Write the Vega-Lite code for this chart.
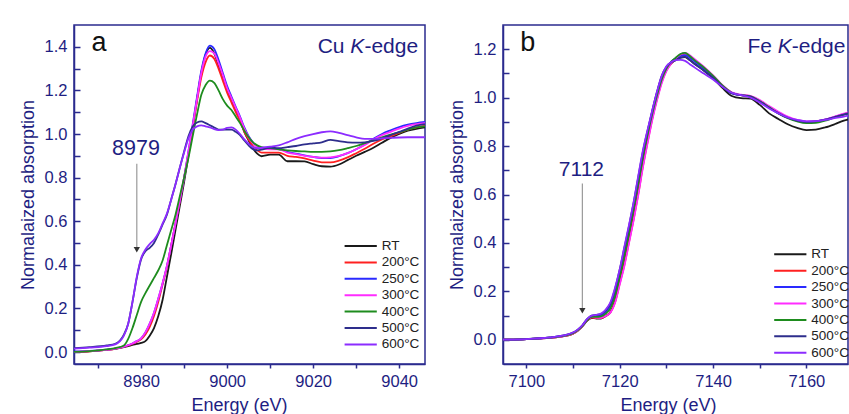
{
"$schema": "https://vega.github.io/schema/vega-lite/v6.json",
"background": "white",
"padding": {"left": 18, "top": 24, "right": 0, "bottom": 0},
"config": {
  "font": "Liberation Sans",
  "view": {"stroke": "#2b2b8e", "strokeWidth": 1.5},
  "axis": {"domainColor": "#2b2b8e", "domainWidth": 1.5, "tickColor": "#2b2b8e", "tickWidth": 1.5, "labelColor": "#1e1e82", "labelFont": "Liberation Sans", "labelFontSize": 16.5, "titleColor": "#1e1e82", "titleFont": "Liberation Sans", "titleFontSize": 18, "titleFontWeight": "normal", "grid": false, "labelFlush": false, "labelOverlap": false},
  "legend": {"title": null, "orient": "none", "symbolType": "M-2.3,0H2.3", "symbolSize": 196, "symbolStrokeWidth": 2, "labelFontSize": 13.5, "labelFont": "Liberation Sans", "labelColor": "#222222", "labelOffset": 13, "rowPadding": 1.4, "padding": 0}
},
"datasets": {
  "a": [
    {"e":8964,"RT":0,"200":0,"250":0.002,"300":0,"400":0,"500":0.017,"600":0.015},
    {"e":8968,"RT":0.003,"200":0.003,"250":0.005,"300":0.004,"400":0.004,"500":0.022,"600":0.02},
    {"e":8972,"RT":0.01,"200":0.01,"250":0.011,"300":0.01,"400":0.012,"500":0.03,"600":0.027},
    {"e":8974,"RT":0.015,"200":0.015,"250":0.016,"300":0.016,"400":0.018,"500":0.038,"600":0.035},
    {"e":8976,"RT":0.022,"200":0.024,"250":0.025,"300":0.025,"400":0.03,"500":0.08,"600":0.075},
    {"e":8977,"RT":0.027,"200":0.03,"250":0.031,"300":0.031,"400":0.06,"500":0.13,"600":0.13},
    {"e":8978,"RT":0.033,"200":0.037,"250":0.039,"300":0.039,"400":0.11,"500":0.23,"600":0.23},
    {"e":8979,"RT":0.037,"200":0.046,"250":0.05,"300":0.05,"400":0.17,"500":0.34,"600":0.345},
    {"e":8980,"RT":0.042,"200":0.058,"250":0.063,"300":0.063,"400":0.23,"500":0.425,"600":0.43},
    {"e":8981,"RT":0.05,"200":0.08,"250":0.09,"300":0.09,"400":0.27,"500":0.462,"600":0.47},
    {"e":8982,"RT":0.075,"200":0.115,"250":0.13,"300":0.13,"400":0.305,"500":0.478,"600":0.495},
    {"e":8983,"RT":0.11,"200":0.165,"250":0.18,"300":0.18,"400":0.34,"500":0.5,"600":0.515},
    {"e":8984,"RT":0.165,"200":0.23,"250":0.245,"300":0.245,"400":0.375,"500":0.54,"600":0.545},
    {"e":8985,"RT":0.24,"200":0.31,"250":0.315,"300":0.315,"400":0.42,"500":0.585,"600":0.59},
    {"e":8986,"RT":0.345,"200":0.39,"250":0.395,"300":0.395,"400":0.49,"500":0.63,"600":0.635},
    {"e":8987,"RT":0.45,"200":0.49,"250":0.49,"300":0.49,"400":0.56,"500":0.7,"600":0.7},
    {"e":8988,"RT":0.56,"200":0.59,"250":0.59,"300":0.59,"400":0.63,"500":0.77,"600":0.77},
    {"e":8989,"RT":0.67,"200":0.69,"250":0.695,"300":0.695,"400":0.715,"500":0.845,"600":0.845},
    {"e":8990,"RT":0.78,"200":0.8,"250":0.8,"300":0.8,"400":0.8,"500":0.92,"600":0.915},
    {"e":8991,"RT":0.9,"200":0.91,"250":0.92,"300":0.92,"400":0.89,"500":0.99,"600":0.98},
    {"e":8992,"RT":1.03,"200":1.03,"250":1.045,"300":1.04,"400":0.99,"500":1.035,"600":1.02},
    {"e":8993,"RT":1.16,"200":1.15,"250":1.17,"300":1.16,"400":1.09,"500":1.053,"600":1.035},
    {"e":8994,"RT":1.28,"200":1.26,"250":1.29,"300":1.28,"400":1.18,"500":1.058,"600":1.04},
    {"e":8995,"RT":1.365,"200":1.33,"250":1.37,"300":1.355,"400":1.225,"500":1.05,"600":1.035},
    {"e":8996,"RT":1.395,"200":1.36,"250":1.405,"300":1.38,"400":1.245,"500":1.04,"600":1.03},
    {"e":8997,"RT":1.37,"200":1.345,"250":1.39,"300":1.37,"400":1.235,"500":1.03,"600":1.022},
    {"e":8998,"RT":1.315,"200":1.3,"250":1.34,"300":1.325,"400":1.2,"500":1.02,"600":1.018},
    {"e":8999,"RT":1.26,"200":1.245,"250":1.28,"300":1.27,"400":1.16,"500":1.02,"600":1.02},
    {"e":9000,"RT":1.2,"200":1.19,"250":1.22,"300":1.21,"400":1.13,"500":1.02,"600":1.028},
    {"e":9001,"RT":1.155,"200":1.145,"250":1.172,"300":1.165,"400":1.11,"500":1.02,"600":1.03},
    {"e":9002,"RT":1.11,"200":1.1,"250":1.125,"300":1.12,"400":1.08,"500":1.01,"600":1.02},
    {"e":9003,"RT":1.065,"200":1.06,"250":1.08,"300":1.075,"400":1.05,"500":0.995,"600":1.0},
    {"e":9004,"RT":1.01,"200":1.01,"250":1.03,"300":1.025,"400":1.015,"500":0.97,"600":0.975},
    {"e":9005,"RT":0.97,"200":0.975,"250":0.99,"300":0.985,"400":0.985,"500":0.948,"600":0.955},
    {"e":9006,"RT":0.935,"200":0.945,"250":0.962,"300":0.958,"400":0.962,"500":0.93,"600":0.94},
    {"e":9007,"RT":0.91,"200":0.925,"250":0.943,"300":0.94,"400":0.948,"500":0.925,"600":0.935},
    {"e":9008,"RT":0.898,"200":0.915,"250":0.935,"300":0.932,"400":0.94,"500":0.928,"600":0.937},
    {"e":9010,"RT":0.905,"200":0.915,"250":0.932,"300":0.93,"400":0.935,"500":0.938,"600":0.942},
    {"e":9012,"RT":0.905,"200":0.915,"250":0.932,"300":0.93,"400":0.93,"500":0.935,"600":0.948},
    {"e":9014,"RT":0.875,"200":0.9,"250":0.918,"300":0.915,"400":0.925,"500":0.94,"600":0.962},
    {"e":9016,"RT":0.875,"200":0.895,"250":0.91,"300":0.908,"400":0.922,"500":0.945,"600":0.978},
    {"e":9018,"RT":0.874,"200":0.888,"250":0.902,"300":0.9,"400":0.92,"500":0.952,"600":0.99},
    {"e":9020,"RT":0.862,"200":0.878,"250":0.895,"300":0.895,"400":0.918,"500":0.957,"600":1.0},
    {"e":9022,"RT":0.852,"200":0.87,"250":0.89,"300":0.892,"400":0.918,"500":0.962,"600":1.008},
    {"e":9024,"RT":0.85,"200":0.87,"250":0.89,"300":0.893,"400":0.92,"500":0.973,"600":1.012},
    {"e":9026,"RT":0.86,"200":0.878,"250":0.898,"300":0.9,"400":0.926,"500":0.967,"600":1.005},
    {"e":9028,"RT":0.88,"200":0.893,"250":0.912,"300":0.912,"400":0.935,"500":0.962,"600":0.995},
    {"e":9030,"RT":0.9,"200":0.912,"250":0.93,"300":0.93,"400":0.945,"500":0.96,"600":0.985},
    {"e":9032,"RT":0.918,"200":0.932,"250":0.952,"300":0.95,"400":0.958,"500":0.962,"600":0.978},
    {"e":9034,"RT":0.937,"200":0.955,"250":0.978,"300":0.975,"400":0.972,"500":0.968,"600":0.978},
    {"e":9036,"RT":0.96,"200":0.975,"250":1.0,"300":0.995,"400":0.985,"500":0.98,"600":0.98},
    {"e":9038,"RT":0.982,"200":0.99,"250":1.017,"300":1.01,"400":0.997,"500":0.995,"600":0.982},
    {"e":9040,"RT":1.0,"200":1.005,"250":1.032,"300":1.025,"400":1.008,"500":1.01,"600":0.984},
    {"e":9042,"RT":1.015,"200":1.02,"250":1.043,"300":1.037,"400":1.02,"500":1.025,"600":0.985},
    {"e":9044,"RT":1.024,"200":1.03,"250":1.05,"300":1.045,"400":1.03,"500":1.038,"600":0.985},
    {"e":9046,"RT":1.03,"200":1.037,"250":1.055,"300":1.05,"400":1.035,"500":1.045,"600":0.985}
  ],
  "b": [
    {"e":7094,"RT":0,"200":0,"250":0,"300":0,"400":0,"500":0,"600":0},
    {"e":7100,"RT":0.003,"200":0.003,"250":0.003,"300":0.003,"400":0.003,"500":0.003,"600":0.003},
    {"e":7105,"RT":0.008,"200":0.008,"250":0.009,"300":0.008,"400":0.009,"500":0.01,"600":0.01},
    {"e":7108,"RT":0.015,"200":0.015,"250":0.017,"300":0.015,"400":0.016,"500":0.018,"600":0.018},
    {"e":7110,"RT":0.025,"200":0.025,"250":0.028,"300":0.026,"400":0.027,"500":0.03,"600":0.03},
    {"e":7111,"RT":0.037,"200":0.037,"250":0.04,"300":0.038,"400":0.039,"500":0.042,"600":0.042},
    {"e":7112,"RT":0.055,"200":0.056,"250":0.058,"300":0.057,"400":0.057,"500":0.06,"600":0.06},
    {"e":7113,"RT":0.078,"200":0.08,"250":0.083,"300":0.082,"400":0.08,"500":0.085,"600":0.085},
    {"e":7114,"RT":0.09,"200":0.092,"250":0.098,"300":0.094,"400":0.095,"500":0.1,"600":0.1},
    {"e":7115,"RT":0.088,"200":0.09,"250":0.1,"300":0.092,"400":0.095,"500":0.103,"600":0.103},
    {"e":7116,"RT":0.088,"200":0.09,"250":0.102,"300":0.091,"400":0.097,"500":0.106,"600":0.108},
    {"e":7117,"RT":0.098,"200":0.098,"250":0.115,"300":0.098,"400":0.108,"500":0.122,"600":0.125},
    {"e":7118,"RT":0.115,"200":0.113,"250":0.14,"300":0.112,"400":0.13,"500":0.15,"600":0.155},
    {"e":7119,"RT":0.16,"200":0.155,"250":0.195,"300":0.152,"400":0.18,"500":0.21,"600":0.215},
    {"e":7120,"RT":0.24,"200":0.232,"250":0.275,"300":0.228,"400":0.26,"500":0.29,"600":0.29},
    {"e":7121,"RT":0.32,"200":0.31,"250":0.362,"300":0.305,"400":0.345,"500":0.38,"600":0.385},
    {"e":7122,"RT":0.415,"200":0.405,"250":0.455,"300":0.4,"400":0.44,"500":0.47,"600":0.475},
    {"e":7123,"RT":0.51,"200":0.5,"250":0.555,"300":0.495,"400":0.54,"500":0.568,"600":0.57},
    {"e":7124,"RT":0.615,"200":0.605,"250":0.66,"300":0.6,"400":0.645,"500":0.675,"600":0.68},
    {"e":7125,"RT":0.73,"200":0.72,"250":0.77,"300":0.715,"400":0.755,"500":0.78,"600":0.785},
    {"e":7126,"RT":0.83,"200":0.82,"250":0.86,"300":0.815,"400":0.85,"500":0.867,"600":0.87},
    {"e":7127,"RT":0.92,"200":0.915,"250":0.945,"300":0.91,"400":0.935,"500":0.948,"600":0.95},
    {"e":7128,"RT":1.0,"200":0.995,"250":1.02,"300":0.99,"400":1.01,"500":1.025,"600":1.025},
    {"e":7129,"RT":1.07,"200":1.065,"250":1.085,"300":1.06,"400":1.075,"500":1.09,"600":1.09},
    {"e":7130,"RT":1.115,"200":1.112,"250":1.125,"300":1.11,"400":1.12,"500":1.128,"600":1.13},
    {"e":7131,"RT":1.14,"200":1.14,"250":1.148,"300":1.14,"400":1.148,"500":1.145,"600":1.147},
    {"e":7132,"RT":1.155,"200":1.16,"250":1.162,"300":1.162,"400":1.165,"500":1.155,"600":1.155},
    {"e":7133,"RT":1.165,"200":1.175,"250":1.172,"300":1.178,"400":1.18,"500":1.165,"600":1.156},
    {"e":7134,"RT":1.167,"200":1.182,"250":1.176,"300":1.185,"400":1.185,"500":1.168,"600":1.152},
    {"e":7135,"RT":1.155,"200":1.17,"250":1.165,"300":1.175,"400":1.172,"500":1.155,"600":1.138},
    {"e":7136,"RT":1.14,"200":1.155,"250":1.15,"300":1.16,"400":1.155,"500":1.14,"600":1.125},
    {"e":7138,"RT":1.112,"200":1.125,"250":1.12,"300":1.128,"400":1.125,"500":1.112,"600":1.1},
    {"e":7140,"RT":1.08,"200":1.09,"250":1.087,"300":1.092,"400":1.09,"500":1.082,"600":1.075},
    {"e":7142,"RT":1.04,"200":1.05,"250":1.048,"300":1.052,"400":1.05,"500":1.045,"600":1.045},
    {"e":7144,"RT":1.007,"200":1.02,"250":1.018,"300":1.022,"400":1.02,"500":1.017,"600":1.02},
    {"e":7146,"RT":0.998,"200":1.01,"250":1.01,"300":1.012,"400":1.01,"500":1.01,"600":1.01},
    {"e":7148,"RT":0.996,"200":1.005,"250":1.004,"300":1.007,"400":1.005,"500":1.004,"600":1.0},
    {"e":7150,"RT":0.97,"200":0.987,"250":0.985,"300":0.99,"400":0.985,"500":0.984,"600":0.98},
    {"e":7152,"RT":0.935,"200":0.962,"250":0.96,"300":0.965,"400":0.96,"500":0.958,"600":0.955},
    {"e":7154,"RT":0.912,"200":0.938,"250":0.937,"300":0.942,"400":0.935,"500":0.935,"600":0.935},
    {"e":7156,"RT":0.89,"200":0.918,"250":0.918,"300":0.922,"400":0.915,"500":0.917,"600":0.918},
    {"e":7158,"RT":0.875,"200":0.905,"250":0.906,"300":0.908,"400":0.902,"500":0.905,"600":0.908},
    {"e":7160,"RT":0.866,"200":0.898,"250":0.9,"300":0.902,"400":0.895,"500":0.9,"600":0.902},
    {"e":7162,"RT":0.868,"200":0.9,"250":0.902,"300":0.903,"400":0.896,"500":0.902,"600":0.903},
    {"e":7164,"RT":0.877,"200":0.908,"250":0.909,"300":0.91,"400":0.905,"500":0.909,"600":0.908},
    {"e":7166,"RT":0.89,"200":0.92,"250":0.92,"300":0.922,"400":0.918,"500":0.92,"600":0.915},
    {"e":7168,"RT":0.905,"200":0.932,"250":0.932,"300":0.934,"400":0.93,"500":0.93,"600":0.922},
    {"e":7170,"RT":0.915,"200":0.942,"250":0.942,"300":0.944,"400":0.94,"500":0.94,"600":0.93}
  ]
},
"spacing": 21,
"resolve": {"scale": {"color": "independent", "x": "independent", "y": "independent"}, "legend": {"color": "independent"}},
"hconcat": [
  {
    "width": 351, "height": 339,
    "encoding": {
      "x": {"field": "e", "type": "quantitative", "scale": {"domain": [8964.4, 9046], "nice": false, "zero": false},
        "axis": {"values": [8970, 8980, 8990, 9000, 9010, 9020, 9030, 9040], "format": "d", "labelExpr": "datum.value % 20 == 0 ? datum.label : ''", "tickSize": 4, "labelPadding": 5, "title": "Energy (eV)", "titleX": 165, "titleY": 46, "titleBaseline": "alphabetic"}},
      "y": {"field": "v", "type": "quantitative", "scale": {"domain": [-0.055, 1.5], "nice": false, "zero": false},
        "axis": {"values": [0, 0.1, 0.2, 0.3, 0.4, 0.5, 0.6, 0.7, 0.8, 0.9, 1.0, 1.1, 1.2, 1.3, 1.4], "labelExpr": "round(datum.value*10) % 2 == 0 ? format(datum.value, '.1f') : ''", "tickSize": -6, "labelPadding": 13, "title": "Normalaized absorption", "titleX": -46, "titleBaseline": "middle"}}
    },
    "layer": [
      {"data": {"name": "a"}, "transform": [{"fold": ["RT", "200", "250", "300", "400", "500", "600"], "as": ["s", "v"]}],
       "mark": {"type": "line", "interpolate": "monotone", "strokeWidth": 1.8, "clip": true},
       "encoding": {"color": {"field": "s", "type": "nominal", "scale": {"domain": ["RT", "200", "250", "300", "400", "500", "600"], "range": ["#1a1a1a", "#ff2020", "#2a2aff", "#ff2cff", "#1e8c1e", "#2e2e8c", "#8c2cff"]},
         "legend": {"legendX": 278.7, "legendY": 213, "labelExpr": "datum.label == 'RT' ? 'RT' : datum.label + '°C'"}}}},
      {"data": {"values": [{"e": 8979, "v": 0.864, "v2": 0.48}]}, "mark": {"type": "rule", "color": "#9a9a9a", "strokeWidth": 1.2}, "encoding": {"y2": {"field": "v2"}}},
      {"data": {"values": [{"e": 8979, "v": 0.469}]}, "mark": {"type": "point", "shape": "triangle-down", "filled": true, "color": "#333333", "opacity": 1, "size": 40}},
      {"data": {"values": [{"e": 8978.8, "v": 0.932, "t": "8979"}]}, "mark": {"type": "text", "fontSize": 21.5, "color": "#1e1e82", "align": "center", "baseline": "middle"}, "encoding": {"text": {"field": "t"}}},
      {"data": {"values": [{"e": 8970.2, "v": 1.383, "t": "a"}]}, "mark": {"type": "text", "fontSize": 27, "color": "#111111", "align": "center", "baseline": "alphabetic"}, "encoding": {"text": {"field": "t"}}},
      {"data": {"values": [{"e": 9027.3, "v": 1.373, "t": "Cu"}]}, "mark": {"type": "text", "fontSize": 21, "color": "#1e1e82", "align": "right", "baseline": "alphabetic"}, "encoding": {"text": {"field": "t"}}},
      {"data": {"values": [{"e": 9031.9, "v": 1.373, "t": "K"}]}, "mark": {"type": "text", "fontSize": 21, "fontStyle": "italic", "color": "#1e1e82", "align": "right", "baseline": "alphabetic"}, "encoding": {"text": {"field": "t"}}},
      {"data": {"values": [{"e": 9044.4, "v": 1.373, "t": "-edge"}]}, "mark": {"type": "text", "fontSize": 21, "color": "#1e1e82", "align": "right", "baseline": "alphabetic"}, "encoding": {"text": {"field": "t"}}}
    ]
  },
  {
    "width": 345, "height": 339,
    "encoding": {
      "x": {"field": "e", "type": "quantitative", "scale": {"domain": [7095, 7168.9], "nice": false, "zero": false},
        "axis": {"values": [7100, 7110, 7120, 7130, 7140, 7150, 7160], "format": "d", "labelExpr": "datum.value % 20 == 0 ? datum.label : ''", "tickSize": 4, "labelPadding": 5, "title": "Energy (eV)", "titleX": 165, "titleY": 46, "titleBaseline": "alphabetic"}},
      "y": {"field": "v", "type": "quantitative", "scale": {"domain": [-0.1, 1.3], "nice": false, "zero": false},
        "axis": {"values": [0, 0.1, 0.2, 0.3, 0.4, 0.5, 0.6, 0.7, 0.8, 0.9, 1.0, 1.1, 1.2], "labelExpr": "round(datum.value*10) % 2 == 0 ? format(datum.value, '.1f') : ''", "tickSize": -6, "labelPadding": 13, "title": "Normalaized absorption", "titleX": -46, "titleBaseline": "middle"}}
    },
    "layer": [
      {"data": {"name": "b"}, "transform": [{"fold": ["RT", "200", "250", "300", "400", "500", "600"], "as": ["s", "v"]}],
       "mark": {"type": "line", "interpolate": "monotone", "strokeWidth": 1.8, "clip": true},
       "encoding": {"color": {"field": "s", "type": "nominal", "scale": {"domain": ["RT", "200", "250", "300", "400", "500", "600"], "range": ["#1a1a1a", "#ff2020", "#2a2aff", "#ff2cff", "#1e8c1e", "#2e2e8c", "#8c2cff"]},
         "legend": {"legendX": 279.3, "legendY": 221.3, "labelExpr": "datum.label == 'RT' ? 'RT' : datum.label + '°C'"}}}},
      {"data": {"values": [{"e": 7112, "v": 0.645, "v2": 0.13}]}, "mark": {"type": "rule", "color": "#9a9a9a", "strokeWidth": 1.2}, "encoding": {"y2": {"field": "v2"}}},
      {"data": {"values": [{"e": 7112, "v": 0.12}]}, "mark": {"type": "point", "shape": "triangle-down", "filled": true, "color": "#333333", "opacity": 1, "size": 40}},
      {"data": {"values": [{"e": 7111.8, "v": 0.702, "t": "7112"}]}, "mark": {"type": "text", "fontSize": 21, "color": "#1e1e82", "align": "center", "baseline": "middle"}, "encoding": {"text": {"field": "t"}}},
      {"data": {"values": [{"e": 7100.3, "v": 1.194, "t": "b"}]}, "mark": {"type": "text", "fontSize": 27, "color": "#111111", "align": "center", "baseline": "alphabetic"}, "encoding": {"text": {"field": "t"}}},
      {"data": {"values": [{"e": 7152.6, "v": 1.186, "t": "Fe"}]}, "mark": {"type": "text", "fontSize": 21, "color": "#1e1e82", "align": "right", "baseline": "alphabetic"}, "encoding": {"text": {"field": "t"}}},
      {"data": {"values": [{"e": 7156.85, "v": 1.186, "t": "K"}]}, "mark": {"type": "text", "fontSize": 21, "fontStyle": "italic", "color": "#1e1e82", "align": "right", "baseline": "alphabetic"}, "encoding": {"text": {"field": "t"}}},
      {"data": {"values": [{"e": 7168.35, "v": 1.186, "t": "-edge"}]}, "mark": {"type": "text", "fontSize": 21, "color": "#1e1e82", "align": "right", "baseline": "alphabetic"}, "encoding": {"text": {"field": "t"}}}
    ]
  }
]
}
